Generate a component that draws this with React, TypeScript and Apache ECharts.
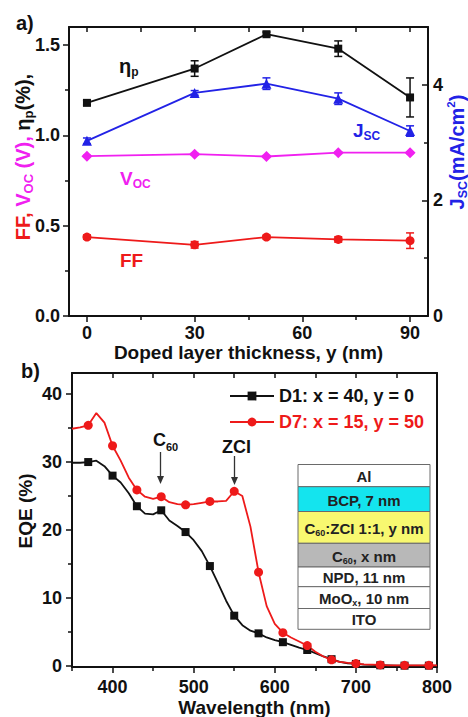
import React, { useEffect, useRef } from "react";
import * as echarts from "echarts";

// ---------- Panel a data ----------
const thickness = [0, 30, 50, 70, 90];
const etaP = [1.18, 1.37, 1.56, 1.48, 1.21];
const etaPErr = [0.012, 0.043, 0.012, 0.043, 0.108];
const jsc = [3.03, 3.86, 4.02, 3.76, 3.2];
const jscErr = [0.05, 0.04, 0.1, 0.1, 0.09];
const voc = [0.885, 0.896, 0.883, 0.904, 0.904];
const vocErr = [0.005, 0.005, 0.005, 0.005, 0.005];
const ff = [0.437, 0.394, 0.437, 0.424, 0.417];
const ffErr = [0.012, 0.018, 0.01, 0.015, 0.043];

// ---------- Panel b data ----------
const wavelength = [
  350, 360, 370, 380, 390, 400, 410, 420, 430, 440, 450, 460, 470, 480, 490, 500,
  510, 520, 530, 540, 550, 560, 570, 580, 590, 600, 610, 620, 630, 640, 650, 660,
  670, 680, 690, 700, 710, 720, 730, 740, 750, 760, 770, 780, 790, 800,
];
const eqeD1 = [
  29.9, 29.9, 30.0, 30.2, 29.4, 28.0, 27.0, 25.4, 23.5, 22.4, 22.3, 22.9, 21.4, 20.6, 19.7, 18.5,
  16.9, 14.7, 12.2, 9.6, 7.4, 6.0, 5.2, 4.8, 4.2, 3.8, 3.5, 3.1, 2.7, 2.35, 1.9, 1.4,
  1.0, 0.6, 0.4, 0.3, 0.2, 0.15, 0.1, 0.1, 0.05, 0.05, 0.05, 0.05, 0.05, 0.05,
];
const eqeD7 = [
  34.9, 35.1, 35.4, 37.2, 35.8, 32.4, 30.2, 27.7, 25.9, 24.9, 24.6, 24.9, 24.1, 23.8, 23.7, 23.8,
  24.0, 24.2, 24.2, 24.3, 25.7, 25.0, 20.5, 13.8, 8.8, 6.2, 4.9, 4.2, 3.6, 3.0, 2.1, 1.4,
  0.9, 0.6, 0.45, 0.35, 0.25, 0.2, 0.15, 0.1, 0.1, 0.1, 0.1, 0.1, 0.1, 0.1,
];
const markerWavelengths = [370, 400, 430, 460, 490, 520, 550, 580, 610, 640, 670, 700, 730, 760, 790];

// ---------- tick values ----------
const xTicksA = [0, 30, 60, 90];
const xMinorA = [15, 45, 75];
const yTicksA = [0, 0.5, 1.0, 1.5];
const yMinorA = [0.25, 0.75, 1.25];
const yRightTicksA = [0, 2, 4];
const yRightMinorA = [1, 3];
const xTicksB = [400, 500, 600, 700, 800];
const xMinorB = [350, 450, 550, 650, 750];
const xTopB = [400, 450, 500, 550, 600, 650, 700, 750];
const yTicksB = [0, 10, 20, 30, 40];
const yMinorB = [5, 15, 25, 35];

const D1_NAME = "D1: x = 40, y = 0";
const D7_NAME = "D7: x = 15, y = 50";

const FAMILY = "Liberation Sans, Arial, Helvetica, sans-serif";
const BLACK = "#111111";
const RED = "#ee1a1a";
const MAGENTA = "#f020f0";
const BLUE = "#2222e6";

const labelFont = { fontFamily: FAMILY, fontWeight: "bold" as const, fontSize: 18, color: BLACK };
const nameFont = { fontFamily: FAMILY, fontWeight: "bold" as const, fontSize: 19, color: BLACK };
const axisLineStyle = { color: BLACK, width: 2 };

const fontStr = (size: number) => `bold ${size}px ${FAMILY}`;

function tickAxis(extra: any) {
  return {
    type: "value",
    splitLine: { show: false },
    axisLine: { show: false, onZero: false, lineStyle: axisLineStyle },
    axisLabel: { show: false },
    ...extra,
  };
}

function errorSeries(xIdx: number, yIdx: number, xs: number[], ys: number[], es: number[], color: string) {
  return {
    type: "custom",
    xAxisIndex: xIdx,
    yAxisIndex: yIdx,
    silent: true,
    data: xs.map((x, i) => [x, ys[i], es[i]]),
    encode: { x: 0, y: 1 },
    renderItem: (params: any, api: any) => {
      const x = api.value(0);
      const y = api.value(1);
      const e = api.value(2);
      const top = api.coord([x, y + e]);
      const bot = api.coord([x, y - e]);
      const w = 4;
      const st = { stroke: color, lineWidth: 1.5 };
      return {
        type: "group",
        children: [
          { type: "line", shape: { x1: top[0], y1: top[1], x2: bot[0], y2: bot[1] }, style: st },
          { type: "line", shape: { x1: top[0] - w, y1: top[1], x2: top[0] + w, y2: top[1] }, style: st },
          { type: "line", shape: { x1: bot[0] - w, y1: bot[1], x2: bot[0] + w, y2: bot[1] }, style: st },
        ],
      };
    },
  };
}

function lineSeriesA(name: string, yIdx: number, ys: number[], color: string, symbol: string, size: number) {
  return {
    name,
    type: "line",
    xAxisIndex: 0,
    yAxisIndex: yIdx,
    data: thickness.map((t, i) => [t, ys[i]]),
    symbol,
    symbolSize: size,
    lineStyle: { color, width: 1.8 },
    itemStyle: { color },
    z: 3,
  };
}

function eqeSeries(name: string, ys: number[], color: string, symbol: string, size: number) {
  const markers = new Set(markerWavelengths);
  return {
    name,
    type: "line",
    xAxisIndex: 3,
    yAxisIndex: 4,
    symbol,
    symbolSize: size,
    showAllSymbol: true,
    data: wavelength.map((w, i) => ({ value: [w, ys[i]], symbol: markers.has(w) ? symbol : "none" })),
    lineStyle: { color, width: 1.8 },
    itemStyle: { color },
    z: 3,
  };
}

const richBase = (color: string, size = 19, lh = 24) => ({
  font: fontStr(size),
  fill: color,
  lineHeight: lh,
  verticalAlign: "middle",
});
const richSub = (color: string, size = 12) => ({
  font: fontStr(size),
  fill: color,
  lineHeight: size,
  verticalAlign: "bottom",
});
const richSup = (color: string, size = 11) => ({
  font: fontStr(size),
  fill: color,
  lineHeight: size,
  verticalAlign: "top",
});

function stackGraphics() {
  const x0 = 298;
  const x1 = 430;
  const rows = [
    { y0: 464.5, y1: 486.7, fill: "#ffffff", text: "{t|Al}" },
    { y0: 486.7, y1: 511.5, fill: "#14e4ee", text: "{t|BCP, 7 nm}" },
    { y0: 511.5, y1: 543.3, fill: "#f8f870", text: "{t|C}{s|60}{t|:ZCI 1:1, y nm}" },
    { y0: 543.3, y1: 567, fill: "#b8b8b8", text: "{t|C}{s|60}{t|, x nm}" },
    { y0: 567, y1: 586.7, fill: "#ffffff", text: "{t|NPD, 11 nm}" },
    { y0: 586.7, y1: 608.5, fill: "#ffffff", text: "{t|MoO}{s|x}{t|, 10 nm}" },
    { y0: 608.5, y1: 629.3, fill: "#ffffff", text: "{t|ITO}" },
  ];
  const children: any[] = [];
  rows.forEach((r) => {
    children.push({
      type: "rect",
      shape: { x: x0, y: r.y0, width: x1 - x0, height: r.y1 - r.y0 },
      style: { fill: r.fill, stroke: "#6a6a6a", lineWidth: 1 },
    });
    children.push({
      type: "text",
      x: (x0 + x1) / 2,
      y: (r.y0 + r.y1) / 2 + 1,
      style: {
        text: r.text,
        align: "center",
        verticalAlign: "middle",
        rich: {
          t: richBase("#222222", 15, 18),
          s: richSub("#222222", 9),
        },
      },
    });
  });
  return { type: "group", children };
}

function arrow(x: number, y0: number, y1: number) {
  return {
    type: "group",
    children: [
      { type: "line", shape: { x1: x, y1: y0, x2: x, y2: y1 - 6 }, style: { stroke: "#333", lineWidth: 1.3 } },
      {
        type: "polygon",
        shape: { points: [[x - 3.5, y1 - 8], [x + 3.5, y1 - 8], [x, y1]] },
        style: { fill: "#333" },
      },
    ],
  };
}

export default function App() {
  const ref = useRef<HTMLDivElement>(null);

  useEffect(() => {
    document.body.style.margin = "0";
    if (!ref.current) return;
    const chart = echarts.init(ref.current, null, { renderer: "svg" });

    const option: any = {
      animation: false,
      backgroundColor: "#ffffff",
      grid: [
        { left: 69, top: 27, width: 359, height: 289, outerBoundsMode: "none", containLabel: false },
        { left: 72, top: 373, width: 365, height: 294, outerBoundsMode: "none", containLabel: false },
      ],
      legend: {
        orient: "vertical",
        left: 229,
        top: 387,
        itemWidth: 44,
        itemHeight: 11,
        itemGap: 8,
        padding: 0,
        selectedMode: false,
        textStyle: { fontFamily: FAMILY, fontWeight: "bold", fontSize: 18 },
        data: [
          { name: D1_NAME, textStyle: { color: BLACK } },
          { name: D7_NAME, textStyle: { color: RED } },
        ],
      },
      xAxis: [
        tickAxis({
          gridIndex: 0,
          position: "bottom",
          min: -5,
          max: 95,
          axisLine: { show: true, onZero: false, lineStyle: axisLineStyle },
          axisTick: { show: true, inside: false, length: 6, customValues: xTicksA, lineStyle: { color: BLACK, width: 1.5 } },
          axisLabel: { show: true, customValues: xTicksA, margin: 8, ...labelFont },
          name: "Doped layer thickness, y (nm)",
          nameLocation: "middle",
          nameGap: 24,
          nameTextStyle: nameFont,
        }),
        tickAxis({
          gridIndex: 0,
          position: "bottom",
          min: -5,
          max: 95,
          axisTick: { show: true, inside: false, length: 4, customValues: xMinorA, lineStyle: { color: BLACK, width: 1.5 } },
        }),
        tickAxis({
          gridIndex: 0,
          position: "top",
          min: -5,
          max: 95,
          axisLine: { show: true, onZero: false, lineStyle: axisLineStyle },
          axisTick: { show: true, inside: true, length: 5, customValues: [...xTicksA, ...xMinorA], lineStyle: { color: BLACK, width: 1.5 } },
        }),
        tickAxis({
          gridIndex: 1,
          position: "bottom",
          min: 350,
          max: 800,
          axisLine: { show: true, onZero: false, lineStyle: axisLineStyle },
          axisTick: { show: true, inside: false, length: 6, customValues: xTicksB, lineStyle: { color: BLACK, width: 1.5 } },
          axisLabel: { show: true, customValues: xTicksB, margin: 11, ...labelFont },
          name: "Wavelength (nm)",
          nameLocation: "middle",
          nameGap: 31,
          nameTextStyle: nameFont,
        }),
        tickAxis({
          gridIndex: 1,
          position: "bottom",
          min: 350,
          max: 800,
          axisTick: { show: true, inside: false, length: 4, customValues: xMinorB, lineStyle: { color: BLACK, width: 1.5 } },
        }),
        tickAxis({
          gridIndex: 1,
          position: "top",
          min: 350,
          max: 800,
          axisLine: { show: true, onZero: false, lineStyle: axisLineStyle },
          axisTick: { show: true, inside: true, length: 5, customValues: xTopB, lineStyle: { color: BLACK, width: 1.5 } },
        }),
      ],
      yAxis: [
        tickAxis({
          gridIndex: 0,
          position: "left",
          min: 0,
          max: 1.6,
          axisLine: { show: true, onZero: false, lineStyle: axisLineStyle },
          axisTick: { show: true, inside: false, length: 6, customValues: yTicksA, lineStyle: { color: BLACK, width: 1.5 } },
          axisLabel: { show: true, customValues: yTicksA, margin: 9, formatter: (v: number) => v.toFixed(1), ...labelFont },
        }),
        tickAxis({
          gridIndex: 0,
          position: "left",
          min: 0,
          max: 1.6,
          axisTick: { show: true, inside: false, length: 4, customValues: yMinorA, lineStyle: { color: BLACK, width: 1.5 } },
        }),
        tickAxis({
          gridIndex: 0,
          position: "right",
          min: 0,
          max: 5,
          axisLine: { show: true, onZero: false, lineStyle: axisLineStyle },
          axisTick: { show: true, inside: true, length: 6, customValues: yRightTicksA, lineStyle: { color: BLACK, width: 1.5 } },
          axisLabel: { show: true, customValues: yRightTicksA, margin: 5, ...labelFont },
        }),
        tickAxis({
          gridIndex: 0,
          position: "right",
          min: 0,
          max: 5,
          axisTick: { show: true, inside: true, length: 4, customValues: yRightMinorA, lineStyle: { color: BLACK, width: 1.5 } },
        }),
        tickAxis({
          gridIndex: 1,
          position: "left",
          min: -0.15,
          max: 43.1,
          axisLine: { show: true, onZero: false, lineStyle: axisLineStyle },
          axisTick: { show: true, inside: false, length: 6, customValues: yTicksB, lineStyle: { color: BLACK, width: 1.5 } },
          axisLabel: { show: true, customValues: yTicksB, margin: 10, ...labelFont },
        }),
        tickAxis({
          gridIndex: 1,
          position: "left",
          min: -0.15,
          max: 43.1,
          axisTick: { show: true, inside: false, length: 4, customValues: yMinorB, lineStyle: { color: BLACK, width: 1.5 } },
        }),
        tickAxis({
          gridIndex: 1,
          position: "right",
          min: -0.15,
          max: 43.1,
          axisLine: { show: true, onZero: false, lineStyle: axisLineStyle },
          axisTick: { show: false },
        }),
      ],
      series: [
        errorSeries(0, 0, thickness, etaP, etaPErr, BLACK),
        errorSeries(0, 2, thickness, jsc, jscErr, BLUE),
        errorSeries(0, 0, thickness, voc, vocErr, MAGENTA),
        errorSeries(0, 0, thickness, ff, ffErr, RED),
        lineSeriesA("ηp", 0, etaP, BLACK, "rect", 8),
        lineSeriesA("Jsc", 2, jsc, BLUE, "triangle", 10),
        lineSeriesA("Voc", 0, voc, MAGENTA, "diamond", 11),
        lineSeriesA("FF", 0, ff, RED, "circle", 9),
        eqeSeries(D1_NAME, eqeD1, BLACK, "rect", 8),
        eqeSeries(D7_NAME, eqeD7, RED, "circle", 9),
      ],
      graphic: [
        { type: "text", x: 16, y: 13, style: { text: "a)", font: fontStr(20), fill: BLACK } },
        { type: "text", x: 21, y: 361, style: { text: "b)", font: fontStr(20), fill: BLACK } },
        {
          type: "text",
          x: 23,
          y: 157,
          rotation: Math.PI / 2,
          style: {
            text: "{r|FF, }{m|V}{ms|OC}{m| (V), }{k|η}{ks|p}{k|(%),}",
            align: "center",
            verticalAlign: "middle",
            rich: {
              r: richBase(RED, 20),
              m: richBase(MAGENTA, 20),
              ms: richSub(MAGENTA, 13),
              k: richBase(BLACK, 20),
              ks: richSub(BLACK, 13),
            },
          },
        },
        {
          type: "text",
          x: 457,
          y: 152,
          rotation: Math.PI / 2,
          style: {
            text: "{b|J}{bs|SC}{b|(mA/cm}{bp|2}{b|)}",
            align: "center",
            verticalAlign: "middle",
            rich: { b: richBase(BLUE, 20), bs: richSub(BLUE, 12.5), bp: richSup(BLUE, 11.5) },
          },
        },
        {
          type: "text",
          x: 25,
          y: 511,
          rotation: Math.PI / 2,
          style: {
            text: "EQE (%)",
            align: "center",
            verticalAlign: "middle",
            font: fontStr(19),
            fill: BLACK,
          },
        },
        {
          type: "text",
          x: 119,
          y: 54,
          style: { text: "{k|η}{ks|p}", rich: { k: richBase(BLACK, 20), ks: richSub(BLACK, 12) } },
        },
        {
          type: "text",
          x: 353,
          y: 118,
          style: { text: "{b|J}{bs|SC}", rich: { b: richBase(BLUE), bs: richSub(BLUE) } },
        },
        {
          type: "text",
          x: 120,
          y: 166,
          style: { text: "{m|V}{ms|OC}", rich: { m: richBase(MAGENTA), ms: richSub(MAGENTA) } },
        },
        {
          type: "text",
          x: 120,
          y: 248,
          style: { text: "{r|FF}", rich: { r: richBase(RED) } },
        },
        {
          type: "text",
          x: 153,
          y: 428,
          style: { text: "{k|C}{ks|60}", rich: { k: richBase(BLACK, 18), ks: richSub(BLACK, 11) } },
        },
        arrow(160.5, 452, 484),
        {
          type: "text",
          x: 222,
          y: 435,
          style: { text: "{k|ZCI}", rich: { k: richBase(BLACK, 18) } },
        },
        arrow(234.5, 456, 485),
        stackGraphics(),
      ],
    };

    chart.setOption(option);
    return () => chart.dispose();
  }, []);

  return <div ref={ref} style={{ width: 468, height: 717 }} />;
}
